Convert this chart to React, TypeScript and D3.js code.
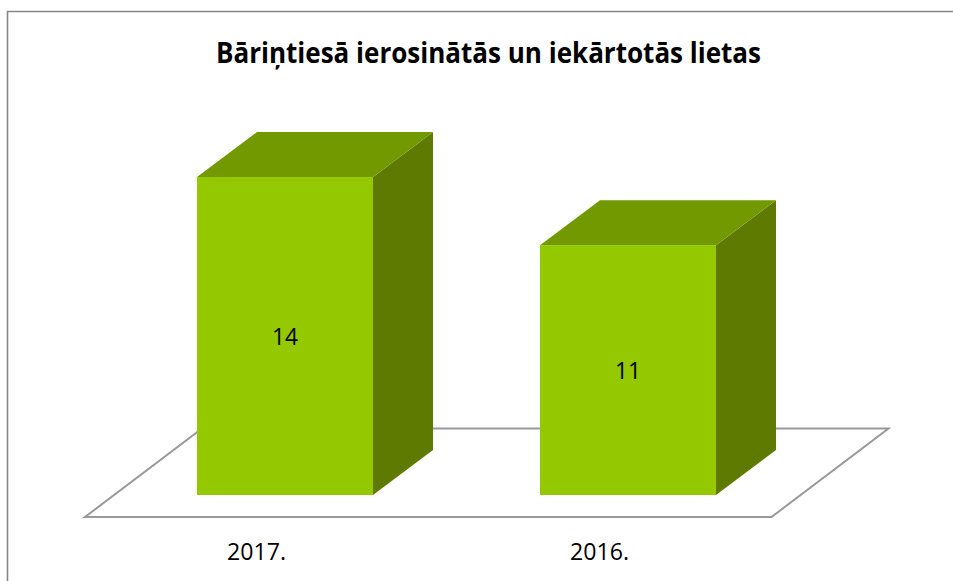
import React from "react";
import * as d3 from "d3";

const title = "Bāriņtiesā ierosinātās un iekārtotās lietas";
const categories = ["2017.", "2016."];
const values = [14, 11];

const W = 953, H = 581;
const FONT = "'Open Sans', sans-serif";
const x = d3.scaleBand<string>().domain(categories).range([85, 771]);
const y = d3.scaleLinear().domain([0, 14]).range([495, 177]);
const barW = 176, dx = 60, dy = 45, shift = 28.5;
const floorBackY = 428.5, floorFrontY = 517;
const pts = (a: number[][]) => a.map((p) => p.join(",")).join(" ");

export default function App() {
  const line = d3.line();
  const floor = line([
    [85, floorFrontY], [771.5, floorFrontY], [888.5, floorBackY], [202, floorBackY],
  ]) + "Z";
  return (
    <svg width={W} height={H} style={{ position: "absolute", left: 0, top: 0, background: "#fff" }}>
      <path d={`M7.5,${H}V11.5H${W}`} fill="none" stroke="#868686" strokeWidth={1.6} />
      <text x={488.5} y={63} textAnchor="middle" fontFamily={FONT} fontWeight={700} fontSize={28}
        textLength={545} lengthAdjust="spacingAndGlyphs" fill="#000">{title}</text>
      <path d={floor} fill="#fff" stroke="#999" strokeWidth={2} />
      {categories.map((c, i) => {
        const cx = x(c)! + x.bandwidth() / 2;
        const l = cx + shift - barW / 2, r = l + barW;
        const t = y(values[i]), b = y(0);
        return (
          <g key={c}>
            <polygon points={pts([[r, t], [r + dx, t - dy], [r + dx, b - dy], [r, b]])} fill="#5f7a00" />
            <polygon points={pts([[l, t], [l + dx, t - dy], [r + dx, t - dy], [r, t]])} fill="#729900" />
            <rect x={l} y={t} width={barW} height={b - t} fill="#94c800" />
            <text x={cx + shift} y={(t + b) / 2 + 8.5} textAnchor="middle" fontFamily={FONT} fontSize={23}
              textLength={26} lengthAdjust="spacingAndGlyphs" fill="#000">{values[i]}</text>
            <text x={cx} y={559.5} textAnchor="middle" fontFamily={FONT} fontSize={24}
              textLength={59} lengthAdjust="spacingAndGlyphs" fill="#000">{c}</text>
          </g>
        );
      })}
    </svg>
  );
}
